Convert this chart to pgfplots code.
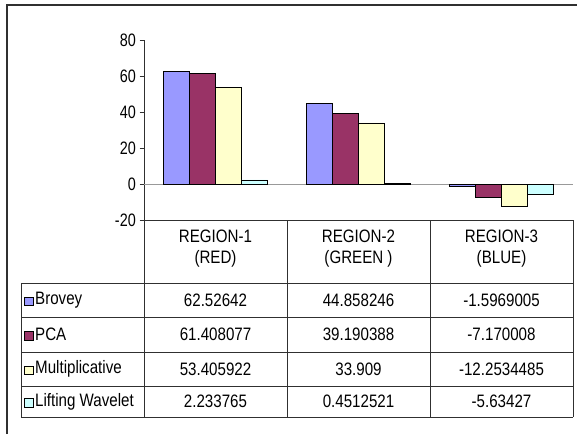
\documentclass[border=0pt]{standalone}
\usepackage{pgfplots}
\pgfplotsset{compat=1.18}
\usepackage{fontspec}
\setmainfont{Liberation Sans}
\newfontfamily\cond[FakeStretch=0.84]{Liberation Sans}
\newfontfamily\condt[FakeStretch=0.8]{Liberation Sans}
\definecolor{cBrovey}{HTML}{9999FF}
\definecolor{cPCA}{HTML}{993366}
\definecolor{cMult}{HTML}{FFFFCC}
\definecolor{cLift}{HTML}{CCFFFF}
\definecolor{lineg}{HTML}{303030}
\newcommand{\tf}{\cond\fontsize{18}{20}\selectfont}
\newcommand{\tkf}{\condt\fontsize{18}{20}\selectfont}
\begin{document}
\begin{tikzpicture}
\begin{scope}[x=1pt,y=1pt]
\useasboundingbox (0,0) rectangle (577,434);
\fill[white] (0,0) rectangle (577,434);
\draw[line width=2pt, lineg] (6.5,0) -- (6.5,428.5) -- (577,428.5);
\end{scope}
\begin{axis}[
  at={(144pt,214pt)}, anchor=south west,
  scale only axis, width=429pt, height=180pt,
  xmin=-0.5, xmax=2.5, ymin=-20, ymax=80,
  ytick={-20,0,20,40,60,80},
  axis x line=none, axis y line*=left,
  y axis line style={lineg, line width=0.8pt},
  y tick style={lineg, line width=0.8pt},
  tick align=outside, major tick length=4.5pt,
  yticklabel style={font=\tkf, inner sep=1pt, xshift=-2.5pt},
  /pgf/number format/assume math mode=true,
  ybar=0pt, bar width=26pt,
  every axis plot/.append style={draw=black, line width=0.8pt},
  clip=false,
]
\draw[gray!80, line width=0.8pt] (axis cs:-0.5,0) -- (axis cs:2.5,0);
\addplot[fill=cBrovey] coordinates {(0,62.52642) (1,44.858246) (2,-1.5969005)};
\addplot[fill=cPCA] coordinates {(0,61.408077) (1,39.190388) (2,-7.170008)};
\addplot[fill=cMult] coordinates {(0,53.405922) (1,33.909) (2,-12.2534485)};
\addplot[fill=cLift] coordinates {(0,2.233765) (1,0.4512521) (2,-5.63427)};
\end{axis}
\begin{scope}[x=1pt,y=1pt]
% table lines
\draw[lineg, line width=0.8pt] (144,214) -- (573,214);
\foreach \yy in {151,117,82,48,17} \draw[lineg, line width=0.8pt] (21,\yy) -- (573,\yy);
\draw[lineg, line width=0.8pt] (21,151) -- (21,17);
\foreach \xx in {144,287,430,573} \draw[lineg, line width=0.8pt] (\xx,214) -- (\xx,17);
% headers
\node[font=\tf, align=center] at (215.5,185) {REGION-1\\[1pt](RED)};
\node[font=\tf, align=center] at (358.5,185) {REGION-2\\[1pt](GREEN )};
\node[font=\tf, align=center] at (501.5,185) {REGION-3\\[1pt](BLUE)};
% row labels
\foreach \c/\lab/\yy in {cBrovey/Brovey/134, cPCA/PCA/99.5, cMult/Multiplicative/65, cLift/Lifting Wavelet/32.5}{
  \draw[fill=\c, draw=black, line width=0.6pt] (24.5,\yy-5.5) rectangle (33,\yy+3);
  \node[font=\tf, anchor=west, inner sep=0pt] at (35,\yy) {\lab};
}
% values
\foreach \a/\b/\cc/\yy in {62.52642/44.858246/-1.5969005/134, 61.408077/39.190388/-7.170008/99.5, 53.405922/33.909/-12.2534485/65, 2.233765/0.4512521/-5.63427/32.5}{
  \node[font=\tf] at (215.5,\yy) {\a};
  \node[font=\tf] at (358.5,\yy) {\b};
  \node[font=\tf] at (501.5,\yy) {\cc};
}
\end{scope}
\end{tikzpicture}
\end{document}
